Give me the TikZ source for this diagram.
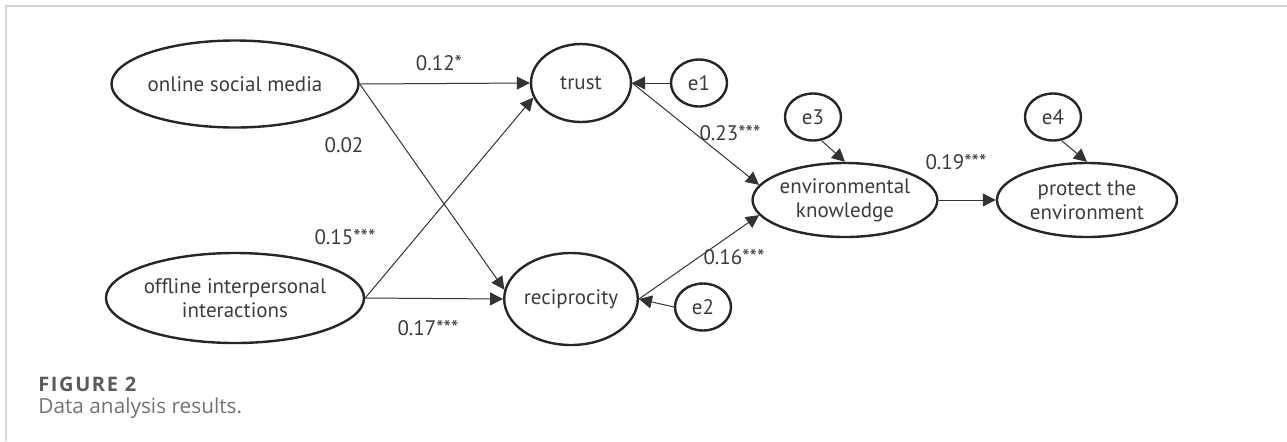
\documentclass[tikz,border=0pt]{standalone}
\usepackage{fontspec}
\setmainfont{Open Sans}
\newfontfamily\diagfont{PT Sans}
\usetikzlibrary{shapes.geometric,arrows.meta}

\definecolor{txtgray}{HTML}{3C3C3C}
\definecolor{capgray}{HTML}{5A5A5A}
\definecolor{framegray}{HTML}{D4D4D4}

\tikzset{
  latent/.style = {draw = black!85, line width = 1.2pt, ellipse, inner sep = 0pt,
                   text = txtgray, align = center},
  errterm/.style = {draw = black!85, line width = 1.2pt, ellipse, inner sep = 0pt,
                    minimum width = 28pt, minimum height = 23.5pt, text = txtgray},
  arrowline/.style = {draw = black!80, line width = 0.5pt,
                      -{Triangle[length = 6.5pt, width = 6.5pt]}},
  coef/.style = {text = txtgray, inner sep = 0pt}
}

\begin{document}
\begin{tikzpicture}[x = 0.5pt, y = -0.5pt, font = \diagfont\fontsize{10.5}{12}\selectfont]
        \useasboundingbox [fill = white] (0,0) rectangle (1287,441);
        
        % frame of the figure
        \draw [framegray, line width = 1pt]
        (6,441) -- (6,6) -- (1287,6);
        
        % latent variables
        \node [latent, minimum width = 113pt, minimum height = 43.5pt] (osm) at (235,84) {online social media};
        \node [latent, minimum width = 113pt, minimum height = 45pt] (offline) at (235,298) {offline interpersonal\\interactions};
        \node [latent, minimum width = 50pt, minimum height = 39pt] (trust) at (581,83) {trust};
        \node [latent, minimum width = 59pt, minimum height = 46pt] (recip) at (571,299) {reciprocity};
        \node [latent, minimum width = 90pt, minimum height = 37pt] (envk) at (845,200) {environmental\\knowledge};
        \node [latent, minimum width = 90pt, minimum height = 37pt] (protect) at (1087,200) {protect the\\environment};
        
        % error terms
        \node [errterm] (e1) at (699,83) {e1};
        \node [errterm] (e2) at (703,307) {e2};
        \node [errterm] (e3) at (813,117) {e3};
        \node [errterm] (e4) at (1053,117) {e4};
        
        % paths
        \draw [arrowline]
        (osm.east) -- (trust.west);
        
        \draw [arrowline]
        (osm.east) -- (recip.172);
        
        \draw [arrowline]
        (offline.east) -- (trust.197);
        
        \draw [arrowline]
        (offline.east) -- (recip.west);
        
        \draw [arrowline]
        (trust.east) -- (envk.170);
        
        \draw [arrowline]
        (recip.east) -- (envk.190);
        
        \draw [arrowline]
        (envk.east) -- (protect.west);
        
        \draw [arrowline] (e1.west) -- (trust.east);
        \draw [arrowline] (e2.west) -- (recip.east);
        \draw [arrowline] (e3.290) -- (envk.north);
        \draw [arrowline] (e4.290) -- (protect.north);
        
        % coefficients
        \node [coef] (c12) at (439,63) {0.12*};
        \node [coef] (c02) at (344,145) {0.02};
        \node [coef] (c15) at (345,237) {0.15***};
        \node [coef] (c17) at (428,328) {0.17***};
        \node [coef] (c23) at (730,133) {0.23***};
        \node [coef] (c16) at (734,257) {0.16***};
        \node [coef] (c19) at (956,162) {0.19***};
        
        % caption
        \node [anchor = west, inner sep = 0pt, text = capgray, font = \fontsize{10}{12}\selectfont\bfseries\addfontfeatures{LetterSpace = 8}] (fig) at (38,384) {FIGURE 2};
        \node [anchor = west, inner sep = 0pt, text = capgray!85, font = \fontsize{10.4}{12}\selectfont] (cap) at (38,408) {Data analysis results.};
    \end{tikzpicture}
\end{document}
